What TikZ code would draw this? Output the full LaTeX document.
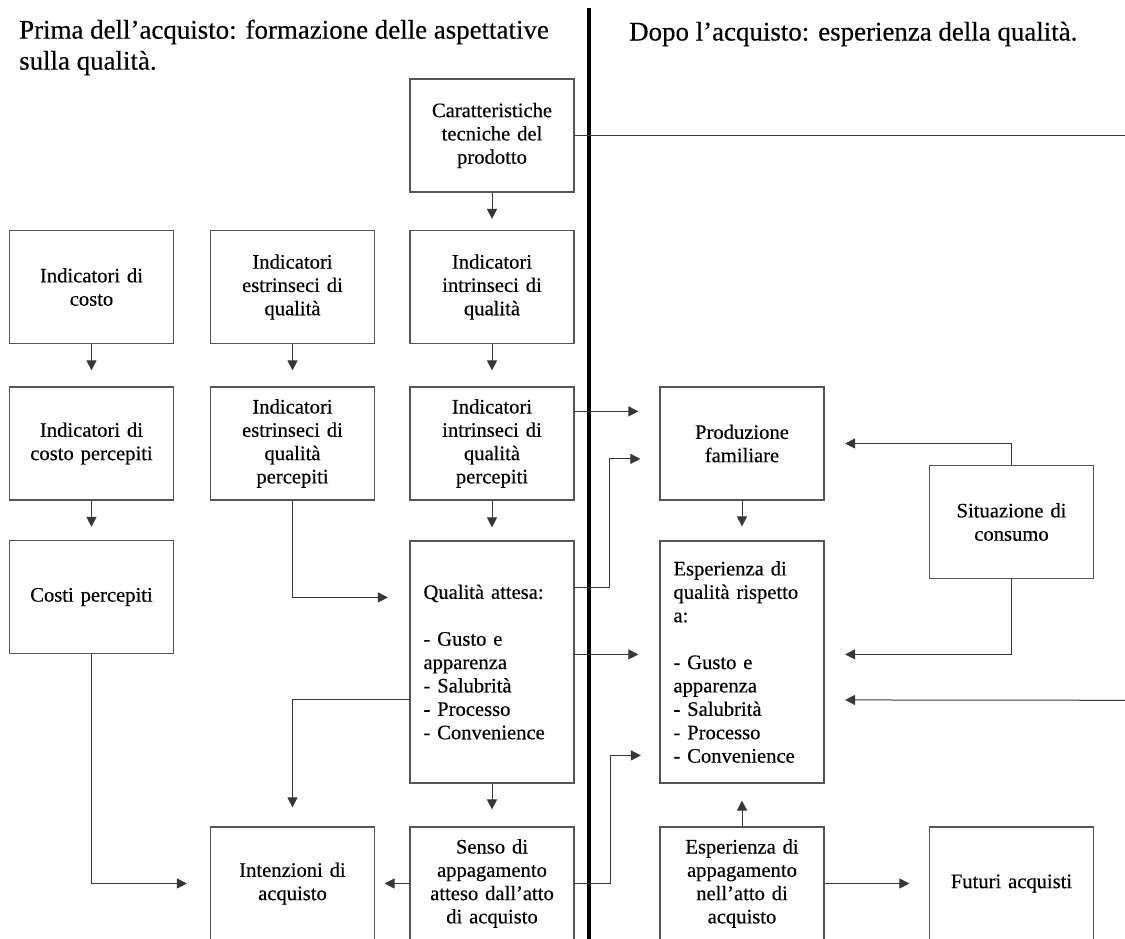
\documentclass[tikz,border=0pt]{standalone}
\usepackage{fontspec}
\setmainfont{Liberation Serif}[FakeBold=0.35]
\usetikzlibrary{arrows.meta,calc}
\definecolor{boxline}{RGB}{85,85,85}
\definecolor{conn}{RGB}{55,55,55}
\tikzset{
  boxc/.style={draw=boxline, line width=1.2pt, minimum width=164pt, minimum height=113pt,
    inner sep=12pt, text width=140pt, align=center,
    font=\fontsize{20.6}{23.3}\selectfont},
  boxl/.style={draw=boxline, line width=1.2pt, minimum width=164pt, minimum height=242pt,
    inner xsep=13.5pt, inner ysep=8pt, text width=137pt, align=left,
    font=\fontsize{20.6}{23.4}\selectfont},
  arr/.style={draw=conn, line width=1pt, -{Triangle[length=10pt,width=10pt]}},
  plainconn/.style={draw=conn, line width=1pt},
  title/.style={inner sep=0pt, align=left, font=\fontsize{26.9}{31}\selectfont},
}
\begin{document}
\begin{tikzpicture}[x=1pt,y=-1pt]
\path[use as bounding box] (0,0) rectangle (1125,938);
\clip (0,0) rectangle (1125,938);
\fill[white] (0,0) rectangle (1125,938);

% titles
\node[title, anchor=north west] (t1) at (19,19.5) {Prima dell’acquisto: formazione delle aspettative\\sulla qualità.};
\node[title, anchor=base west] (t2) at (629,40.5) {Dopo l’acquisto: esperienza della qualità.};

% divider
\coordinate (dtop) at (588.8,8);
\coordinate (dbot) at (588.8,940);
\draw[line width=3.6pt] (dtop) -- (dbot);

% left side boxes
\node[boxc] (car) at (492,135.5) {Caratteristiche\\tecniche del\\prodotto};
\node[boxc] (cost) at (91.5,287) {Indicatori di\\costo};
\node[boxc] (estr) at (292.5,287) {Indicatori\\estrinseci di\\qualità};
\node[boxc] (intr) at (492,287) {Indicatori\\intrinseci di\\qualità};
\node[boxc] (costp) at (91.5,443.5) {Indicatori di\\costo percepiti};
\node[boxc] (estrp) at (292.5,443.5) {Indicatori\\estrinseci di\\qualità\\percepiti};
\node[boxc] (intrp) at (492,443.5) {Indicatori\\intrinseci di\\qualità\\percepiti};
\node[boxc] (costi) at (91.5,597) {Costi percepiti};
\node[boxl] (qa) at (492,662) {Qualità attesa:\\[23.4pt]- Gusto e\\apparenza\\- Salubrità\\- Processo\\- Convenience};
\node[boxc] (intenz) at (292.5,883.5) {Intenzioni di\\acquisto};
\node[boxc] (senso) at (492,883.5) {Senso di\\appagamento\\atteso dall’atto\\di acquisto};

% right side boxes
\node[boxc] (prod) at (742,443.5) {Produzione\\familiare};
\node[boxc] (sit) at (1011.5,522) {Situazione di\\consumo};
\node[boxl] (esq) at (742,662) {Esperienza di\\qualità rispetto\\a:\\[23.4pt]- Gusto e\\apparenza\\- Salubrità\\- Processo\\- Convenience};
\node[boxc] (esapp) at (742,883.5) {Esperienza di\\appagamento\\nell’atto di\\acquisto};
\node[boxc] (fut) at (1011.5,883.5) {Futuri acquisti};

% edge coordinates
\coordinate (redge1) at (1125,135.5);
\coordinate (redge2) at (1125,700.3);

% left connectors
\draw[arr, shorten >=11pt] (car.south) -- (intr.north);
\draw[arr, shorten >=16pt] (cost.south) -- (costp.north);
\draw[arr, shorten >=16pt] (estr.south) -- (estrp.north);
\draw[arr, shorten >=16pt] (intr.south) -- (intrp.north);
\draw[arr, shorten >=13pt] (costp.south) -- (costi.north);
\draw[arr, shorten >=13pt] (intrp.south) -- (qa.north);
\draw[arr, shorten >=21.5pt] (estrp.south) |- ($(qa.north west)+(0,57)$);
\draw[arr, shorten >=19pt] ($(qa.north west)+(0,159.5)$) -| (intenz.north);
\draw[arr, shorten >=17pt] (qa.south) -- (senso.north);
\draw[arr, shorten >=9.5pt] (senso.west) -- (intenz.east);
\draw[arr, shorten >=23pt] (costi.south) |- (intenz.west);

% crossing connectors
\draw[plainconn] (car.east) -- (redge1);
\draw[arr, shorten >=21pt] ($(intrp.north east)+(0,25)$) -- ($(prod.north west)+(0,25)$);
\draw[arr, shorten >=19pt] ($(qa.north east)+(0,47)$) -- ++(34.5,0) |- ($(prod.north west)+(0,72.5)$);
\draw[arr, shorten >=21pt] ($(qa.north east)+(0,114)$) -- ($(esq.north west)+(0,114)$);
\draw[arr, shorten >=18.5pt] (senso.east) -- ++(35.5,0) |- ($(esq.north west)+(0,215)$);

% right connectors
\draw[arr, shorten >=20.5pt] (sit.north) |- (prod.east);
\draw[arr, shorten >=14pt] (prod.south) -- (esq.north);
\draw[arr, shorten >=20.5pt] (sit.south) |- ($(esq.north east)+(0,114)$);
\draw[arr, shorten >=20.5pt] (redge2) -- ($(esq.north east)+(0,159.5)$);
\draw[arr, shorten >=17pt] (esapp.north) -- (esq.south);
\draw[arr, shorten >=19.5pt] (esapp.east) -- (fut.west);
\end{tikzpicture}
\end{document}
